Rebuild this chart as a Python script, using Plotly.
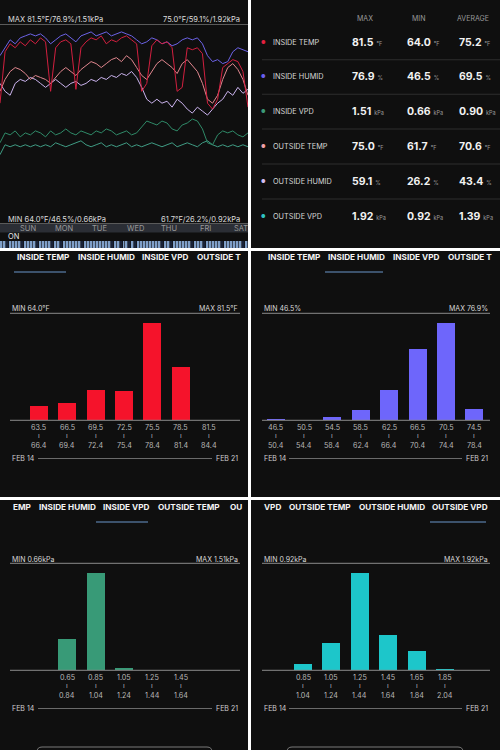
import plotly.graph_objects as go

W, H = 500, 750
def X(px): return px / W
def Y(py): return 1 - py / H

BG = "#0f0f0f"
FONT = "Inter, 'Liberation Sans', Arial, sans-serif"
GRID = "#5a5a5a"

# ---------------- line chart data (relative level 0-100) ----------------
SAMPLES = list(range(50))
INSIDE_TEMP = [60, 86, 90, 88, 91, 89, 92, 90, 93, 91, 66, 88, 91, 92, 90, 67, 88, 91, 93, 92,
               94, 90, 92, 91, 93, 94, 92, 90, 66, 70, 89, 92, 90, 91, 88, 66, 68, 88, 87, 88,
               85, 60, 57, 62, 78, 80, 82, 81, 76, 58]
INSIDE_HUMID = [84, 88, 92, 90, 93, 94, 95, 94, 95, 93, 90, 92, 94, 95, 93, 91, 94, 95, 96, 94,
                95, 96, 94, 95, 96, 95, 94, 92, 90, 91, 93, 92, 90, 91, 89, 90, 92, 93, 92, 93,
                90, 84, 81, 82, 80, 81, 86, 88, 87, 86]
INSIDE_VPD = [40, 45, 44, 46, 43, 45, 44, 46, 45, 43, 46, 44, 45, 47, 45, 44, 46, 45, 44, 46,
              45, 47, 46, 44, 45, 46, 44, 45, 48, 51, 50, 49, 51, 50, 47, 46, 49, 50, 52, 51,
              47, 40, 39, 44, 46, 45, 46, 44, 43, 45]
OUTSIDE_TEMP = [66, 72, 76, 78, 77, 75, 72, 74, 73, 72, 70, 73, 76, 78, 76, 74, 77, 79, 81, 80,
                78, 80, 82, 83, 81, 84, 82, 78, 74, 72, 76, 80, 82, 80, 78, 75, 80, 82, 79, 76,
                70, 62, 60, 64, 72, 78, 80, 77, 72, 64]
OUTSIDE_HUMID = [70, 66, 64, 70, 72, 71, 73, 72, 70, 68, 70, 72, 70, 68, 70, 71, 69, 70, 72, 71,
                 73, 72, 74, 73, 75, 74, 76, 73, 68, 62, 60, 62, 60, 61, 58, 62, 60, 57, 55, 58,
                 56, 54, 57, 60, 62, 66, 64, 68, 65, 67]
OUTSIDE_VPD = [34, 39, 38, 39, 38, 39, 38, 39, 38, 39, 38, 40, 39, 38, 39, 40, 41, 39, 38, 39,
               40, 38, 39, 38, 39, 40, 38, 39, 38, 39, 40, 39, 38, 39, 40, 38, 39, 40, 39, 38,
               40, 41, 39, 38, 39, 38, 39, 38, 39, 38]
DAYS = ["SUN", "MON", "TUE", "WED", "THU", "FRI", "SAT"]
ON_STATE = "11011110111101111011011111101111111110110110101111111101101111110111011111011111101"

# ---------------- stats table ----------------
ROW_NAMES = ["INSIDE TEMP", "INSIDE HUMID", "INSIDE VPD", "OUTSIDE TEMP", "OUTSIDE HUMID", "OUTSIDE VPD"]
ROW_MAX = ["81.5", "76.9", "1.51", "75.0", "59.1", "1.92"]
ROW_MIN = ["64.0", "46.5", "0.66", "61.7", "26.2", "0.92"]
ROW_AVG = ["75.2", "69.5", "0.90", "70.6", "43.4", "1.39"]
ROW_UNIT = ["°F", "%", "kPa", "°F", "%", "kPa"]
DOT_COLORS = ["#e3203f", "#6a5ff0", "#3c9a78", "#f2a0a8", "#d4bdf2", "#2fc3c3"]
LINE_COLORS = ["#d21f3f", "#6c62e6", "#2f8a68", "#e0868e", "#cbb3ee", "#3f9c84"]

# ---------------- histograms ----------------
TEMP_LO = [63.5, 66.5, 69.5, 72.5, 75.5, 78.5, 81.5]
TEMP_HI = [66.4, 69.4, 72.4, 75.4, 78.4, 81.4, 84.4]
TEMP_PCT = [5.8, 7.1, 12.5, 12.1, 40.4, 22.1, 0]
HUMID_LO = [46.5, 50.5, 54.5, 58.5, 62.5, 66.5, 70.5, 74.5]
HUMID_HI = [50.4, 54.4, 58.4, 62.4, 66.4, 70.4, 74.4, 78.4]
HUMID_PCT = [0.4, 0, 1.2, 4.6, 13.4, 31.8, 43.5, 5.0]
IVPD_LO = [0.65, 0.85, 1.05, 1.25, 1.45]
IVPD_HI = [0.84, 1.04, 1.24, 1.44, 1.64]
IVPD_PCT = [24.0, 74.2, 1.8, 0, 0]
OVPD_LO = [0.85, 1.05, 1.25, 1.45, 1.65, 1.85]
OVPD_HI = [1.04, 1.24, 1.44, 1.64, 1.84, 2.04]
OVPD_PCT = [3.2, 14.8, 52.3, 18.9, 10.4, 0.4]

fig = go.Figure()
shapes = []
ann = []

def text(x, y, s, size=7.5, color="#dddddd", xanchor="left", bold=False, yanchor="middle"):
    ann.append(dict(x=X(x), y=Y(y), xref="paper", yref="paper", text=("<b>%s</b>" % s) if bold else s,
                    showarrow=False, xanchor=xanchor, yanchor=yanchor,
                    font=dict(size=size, color=color, family=FONT)))

def hline(x0, x1, y, color=GRID, width=1):
    shapes.append(dict(type="line", xref="paper", yref="paper", x0=X(x0), x1=X(x1), y0=Y(y), y1=Y(y),
                       line=dict(color=color, width=width)))

def rect(x0, y0, x1, y1, color, layer="below"):
    shapes.append(dict(type="rect", xref="paper", yref="paper", x0=X(x0), x1=X(x1), y0=Y(y1), y1=Y(y0),
                       fillcolor=color, line=dict(width=0), layer=layer))

# panel backgrounds
for (x0, y0, x1, y1) in [(0, 0, 248, 248), (251, 0, 500, 248), (0, 251, 248, 497),
                         (251, 251, 500, 497), (0, 500, 248, 750), (251, 500, 500, 750)]:
    rect(x0, y0, x1, y1, BG)

# ---------------- line chart ----------------
TIME = [s * 7 / (len(SAMPLES) - 1) for s in SAMPLES]
series = [INSIDE_TEMP, INSIDE_HUMID, INSIDE_VPD, OUTSIDE_TEMP, OUTSIDE_HUMID, OUTSIDE_VPD]
order = [5, 2, 4, 3, 1, 0]
for k in order:
    fig.add_trace(go.Scatter(x=TIME, y=series[k], mode="lines", xaxis="x", yaxis="y",
                             line=dict(color=LINE_COLORS[k], width=1),
                             showlegend=False, hoverinfo="skip"))

text(6, 20, "MAX 81.5°F/76.9%/1.51kPa", 7.5)
text(242, 20, "75.0°F/59.1%/1.92kPa", 7.5, xanchor="right")
hline(0, 248, 24.5)
text(6, 219.5, "MIN 64.0°F/46.5%/0.66kPa", 7.5)
text(242, 219.5, "61.7°F/26.2%/0.92kPa", 7.5, xanchor="right")
hline(0, 248, 223.5)
rect(0, 224, 248, 232.5, "#2b2e35")
day_x = [28, 64, 99, 135, 169, 205, 241]
for d, dx in zip(DAYS, day_x):
    text(dx, 228.5, d, 7.5, "#9a9a9a", xanchor="center")
text(6, 236.5, "ON", 7.5, "#e8e8e8")

# stripes heatmap
fig.add_trace(go.Heatmap(z=[[int(c) for c in ON_STATE]], xaxis="x2", yaxis="y2",
                         colorscale=[[0, "#182238"], [1, "#7f9fc8"]], showscale=False,
                         hoverinfo="skip", xgap=0.6))

# ---------------- stats table ----------------
text(365, 18, "MAX", 7, "#9a9a9a", xanchor="center")
text(418, 18, "MIN", 7, "#9a9a9a", xanchor="center")
text(473, 18, "AVERAGE", 7, "#9a9a9a", xanchor="center")
row_y = [42, 76.5, 111, 146, 181, 216]
for i, ry in enumerate(row_y):
    ann.append(dict(x=X(263.5), y=Y(ry), xref="paper", yref="paper", text="●", showarrow=False,
                    xanchor="center", yanchor="middle", font=dict(size=5, color=DOT_COLORS[i], family=FONT)))
    text(271, ry, ROW_NAMES[i], 7.3, "#d8d8d8")
    for vx, vals in [(350, ROW_MAX), (405, ROW_MIN), (457, ROW_AVG)]:
        text(vx, ry, "<b>%s</b> <span style='font-size:5.5px;color:#9a9a9a'>%s</span>" % (vals[i], ROW_UNIT[i]),
             10.5, "#f2f2f2")
    if i < 5:
        hline(262, 500, (row_y[i] + row_y[i + 1]) / 2 + 0.5, "#2e2e2e")

# ---------------- histograms ----------------
hists = [
    dict(ax=3, px0=0, px1=248, c=124, yoff=250, lo=TEMP_LO, hi=TEMP_HI, v=TEMP_PCT, color="#f5132b",
         mn="MIN 64.0°F", mx="MAX 81.5°F",
         tabs=[("INSIDE TEMP", 15), ("INSIDE HUMID", 76), ("INSIDE VPD", 140), ("OUTSIDE T", 195)],
         ul=(14, 66), lx=(10, 240), feb=(38, 212), btn=None),
    dict(ax=4, px0=251, px1=500, c=375, yoff=250, lo=HUMID_LO, hi=HUMID_HI, v=HUMID_PCT, color="#6e66fb",
         mn="MIN 46.5%", mx="MAX 76.9%",
         tabs=[("INSIDE TEMP", 266), ("INSIDE HUMID", 326), ("INSIDE VPD", 391), ("OUTSIDE T", 446)],
         ul=(325, 383), lx=(262, 490), feb=(289, 462), btn=None),
    dict(ax=5, px0=0, px1=248, c=124, yoff=500, lo=IVPD_LO, hi=IVPD_HI, v=IVPD_PCT, color="#389a77",
         mn="MIN 0.66kPa", mx="MAX 1.51kPa",
         tabs=[("EMP", 11), ("INSIDE HUMID", 37), ("INSIDE VPD", 101), ("OUTSIDE TEMP", 156), ("OU", 228)],
         ul=(96, 148), lx=(10, 240), feb=(38, 212), btn=(37, 212)),
    dict(ax=6, px0=251, px1=500, c=374, yoff=500, lo=OVPD_LO, hi=OVPD_HI, v=OVPD_PCT, color="#1dc6ca",
         mn="MIN 0.92kPa", mx="MAX 1.92kPa",
         tabs=[("VPD", 262), ("OUTSIDE TEMP", 287), ("OUTSIDE HUMID", 357), ("OUTSIDE VPD", 430)],
         ul=(430, 486), lx=(262, 490), feb=(289, 462), btn=(287, 463)),
]

layout_axes = {}
S = 28.4
for h in hists:
    n = len(h["v"])
    yo = h["yoff"]
    xa = "x%d" % h["ax"]
    ya = "y%d" % h["ax"]
    fig.add_trace(go.Bar(x=list(range(n)), y=h["v"], xaxis=xa, yaxis=ya, marker=dict(color=h["color"], line=dict(width=0)),
                         width=0.64, showlegend=False, hoverinfo="skip"))
    r0 = (n - 1) / 2 - (h["c"] - h["px0"]) / S
    r1 = (n - 1) / 2 + (h["px1"] - h["c"]) / S
    layout_axes["xaxis%d" % h["ax"]] = dict(domain=[X(h["px0"]), X(h["px1"])], range=[r0, r1], visible=False,
                                            anchor=ya, fixedrange=True)
    layout_axes["yaxis%d" % h["ax"]] = dict(domain=[Y(yo + 170), Y(yo + 73)], range=[0, max(h["v"])],
                                            visible=False, anchor=xa, fixedrange=True)
    for t, tx in h["tabs"]:
        text(tx, yo + 6.5, t, 8.2, "#f4f4f4", bold=True)
    shapes.append(dict(type="line", xref="paper", yref="paper", x0=X(h["ul"][0]), x1=X(h["ul"][1]),
                       y0=Y(yo + 22), y1=Y(yo + 22), line=dict(color="#4d6a8c", width=1.6)))
    text(h["lx"][0], yo + 59, h["mn"], 7, "#d8d8d8")
    text(h["lx"][1], yo + 59, h["mx"], 7, "#d8d8d8", xanchor="right")
    hline(h["lx"][0], h["lx"][1], yo + 63.3, "#8a8a8a")
    hline(h["lx"][0], h["lx"][1], yo + 170.3, "#8a8a8a")
    for i in range(n):
        for yy, s in [(yo + 177.5, "%.2f" % h["lo"][i] if h["lo"][i] < 10 else "%.1f" % h["lo"][i]),
                      (yo + 185.5, "ı"),
                      (yo + 195.5, "%.2f" % h["hi"][i] if h["hi"][i] < 10 else "%.1f" % h["hi"][i])]:
            ann.append(dict(x=i, y=Y(yy), xref=xa, yref="paper", text=s, showarrow=False, xanchor="center",
                            yanchor="middle", font=dict(size=7.2, color="#b8b8b8", family=FONT)))
    text(h["lx"][0], yo + 208.5, "FEB 14", 7, "#d0d0d0")
    text(h["lx"][1], yo + 208.5, "FEB 21", 7, "#d0d0d0", xanchor="right")
    hline(h["feb"][0], h["feb"][1], yo + 208.5, "#6a6a6a")
    if h["btn"]:
        b0, b1 = h["btn"]
        shapes.append(dict(type="path", xref="paper", yref="paper",
                           path="M %f %f Q %f %f %f %f L %f %f Q %f %f %f %f" % (
                               X(b0), Y(752), X(b0), Y(747), X(b0 + 5), Y(747), X(b1 - 5), Y(747),
                               X(b1), Y(747), X(b1), Y(752)),
                           line=dict(color="#7a7a7a", width=1)))

fig.update_layout(
    width=W, height=H, margin=dict(l=0, r=0, t=0, b=0), paper_bgcolor="#ffffff", plot_bgcolor="rgba(0,0,0,0)",
    showlegend=False, shapes=shapes, annotations=ann, bargap=0,
    xaxis=dict(domain=[0, X(248)], range=[0, 7], visible=False, fixedrange=True),
    yaxis=dict(domain=[Y(222), Y(24)], range=[0, 100], visible=False, fixedrange=True),
    xaxis2=dict(domain=[0, X(248)], range=[-0.5, len(ON_STATE) - 0.5], visible=False, anchor="y2", fixedrange=True),
    yaxis2=dict(domain=[Y(248), Y(241)], range=[-0.5, 0.5], visible=False, anchor="x2", fixedrange=True),
    **layout_axes,
)
fig.write_html("out.html", config={"displayModeBar": False},
               post_script="document.body.style.margin='0';document.body.style.padding='0';"
                           "document.body.style.overflow='hidden';")
